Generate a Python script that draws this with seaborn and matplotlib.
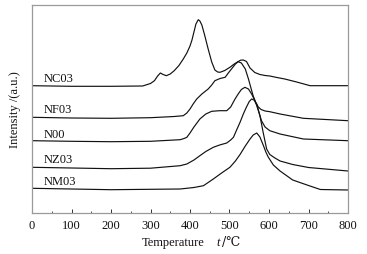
import numpy as np
import pandas as pd
import matplotlib
matplotlib.use("Agg")
import matplotlib.pyplot as plt
import seaborn as sns
from matplotlib.ticker import MultipleLocator

# Readings from the picture (temperature in degC, intensity in arbitrary units)
nc03_t = [0, 100, 200, 280, 300, 310, 318, 325, 332, 340, 350, 360, 372, 383, 392, 400, 405, 410, 415, 421, 425, 430, 437, 446, 455, 463, 470, 476, 488, 501, 512, 520, 528, 535, 543, 552, 564, 577, 590, 602, 620, 640, 670, 704, 800]
nc03_v = [127.3, 126.7, 126.7, 127, 129.5, 132.3, 137, 140, 138.5, 137.3, 139, 142.3, 147.5, 154, 160, 167, 173, 181, 189, 193.3, 192, 188, 178, 164, 151, 143, 141, 140.7, 142.5, 145.7, 149, 151, 152.8, 153, 151.5, 145, 140.5, 138.5, 137.5, 137, 135.5, 134, 131, 127.3, 127.3]

nf03_t = [0, 100, 200, 300, 360, 383, 392, 400, 408, 417, 430, 446, 455, 463, 476, 489, 497, 505, 515, 522, 530, 540, 548, 555, 560, 567, 573, 580, 590, 602, 628, 687, 800]
nf03_v = [95.7, 95, 94.7, 95.3, 96.5, 97.3, 100, 104, 109, 114, 119, 124, 128, 132.3, 134.5, 135.7, 140, 144, 149, 151.3, 150, 144, 134, 124, 117, 110, 106, 103.5, 102, 101.3, 99, 94.7, 92.3]

n00_t = [0, 100, 200, 300, 375, 385, 392, 400, 410, 425, 440, 455, 475, 493, 503, 514, 522, 530, 539, 548, 556, 563, 569, 575, 581, 590, 602, 628, 687, 800]
n00_v = [72.3, 71.7, 71.3, 71.7, 73.3, 74.5, 75.7, 80, 86, 94, 99, 101.7, 102.3, 102.3, 106, 114, 119, 123.5, 125.7, 124, 119, 113.5, 107.3, 100, 92.3, 86, 82.3, 79, 74, 72.3]

nz03_t = [0, 100, 200, 300, 375, 392, 410, 425, 440, 459, 475, 493, 503, 510, 518, 527, 535, 543, 550, 556, 562, 569, 577, 585, 594, 602, 615, 628, 660, 700, 800]
nz03_v = [45.7, 45, 44.3, 44.8, 47.3, 49, 53, 57.3, 61.5, 65.7, 68, 70, 73, 75.7, 83, 91, 99, 106, 111.5, 114, 113, 109, 97.3, 81, 64, 58.5, 55, 52, 48.5, 45.5, 42]

nm03_t = [0, 100, 200, 300, 375, 410, 434, 446, 459, 480, 501, 515, 527, 540, 552, 560, 569, 577, 586, 592, 598, 611, 628, 660, 700, 730, 800]
nm03_v = [24.7, 24, 23.3, 23.7, 24, 25.5, 27.3, 30.5, 34, 40, 45.7, 52, 58.7, 67, 74, 78, 80, 76, 67.3, 61, 56, 48, 42, 33, 27.5, 23.5, 23]

samples = ["NC03", "NF03", "N00", "NZ03", "NM03"]
temps = [nc03_t, nf03_t, n00_t, nz03_t, nm03_t]
vals = [nc03_v, nf03_v, n00_v, nz03_v, nm03_v]
label_t = [30, 30, 30, 30, 30]
label_v = [135, 104, 79, 54, 32.3]

xticks = [0, 100, 200, 300, 400, 500, 600, 700, 800]

frames = [pd.DataFrame({"T": t, "I": v, "sample": s}) for s, t, v in zip(samples, temps, vals)]
df = pd.concat(frames, ignore_index=True)

sns.set_theme(style="white")
plt.rcParams["font.family"] = ["Liberation Serif", "DejaVu Serif", "DejaVu Sans"]

W, H = 367, 255
fig = plt.figure(figsize=(W / 100, H / 100), dpi=100)
ax = fig.add_axes([32 / W, 41 / H, 316 / W, 208 / H])

sns.lineplot(data=df, x="T", y="I", hue="sample", units="sample", estimator=None,
             palette=["#111111"] * len(samples), linewidth=0.85, legend=False,
             sort=False, ax=ax)

for s, tx, ty in zip(samples, label_t, label_v):
    ax.text(tx, ty, s, fontsize=9, va="center", ha="left", color="#111111")

ax.set_xlim(0, 800)
ax.set_ylim(0, 208)
ax.set_xticks(xticks)
ax.set_xticklabels([str(x) for x in xticks])
ax.xaxis.set_minor_locator(MultipleLocator(50))
ax.set_yticks([])
ax.tick_params(axis="x", which="major", direction="in", length=3, width=0.7,
               color="#333333", labelsize=9, pad=4, bottom=True, labelcolor="#111111")
ax.tick_params(axis="x", which="minor", direction="in", length=1.8, width=0.6,
               color="#333333", bottom=True)

for sp in ax.spines.values():
    sp.set_color("#9a9a9a")
    sp.set_linewidth(0.9)

ax.set_xlabel("")
ax.set_ylabel("Intensity /(a.u.)", fontsize=9, labelpad=8, color="#111111")

# x-axis title in pieces so that t is italic and the degree-Celsius sign has a glyph
ylab = 1 - 243 / H
fig.text(173 / W, ylab, "Temperature", fontsize=9, ha="center", va="center", color="#111111")
fig.text(216 / W, ylab, "t", fontsize=9, ha="left", va="center", style="italic", color="#111111")
fig.text(222 / W, ylab, "/\u2103", fontsize=9, ha="left", va="center", color="#111111",
         family=["DejaVu Serif", "DejaVu Sans"])

fig.savefig("out.png", dpi=100)
